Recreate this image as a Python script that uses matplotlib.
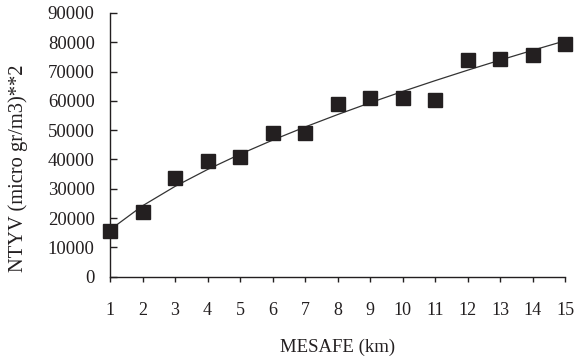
import numpy as np
import matplotlib
matplotlib.use("Agg")
import matplotlib.pyplot as plt

distance_km = [1, 2, 3, 4, 5, 6, 7, 8, 9, 10, 11, 12, 13, 14, 15]
ntyv = [15600, 22200, 33600, 39500, 40700, 49000, 48900, 59000, 60900,
        60900, 60300, 73900, 74300, 75600, 79400]
y_ticks = [0, 10000, 20000, 30000, 40000, 50000, 60000, 70000, 80000, 90000]

plt.rcParams['font.family'] = ['Liberation Serif', 'DejaVu Serif']

fig = plt.figure(figsize=(5.76, 3.6), dpi=100)
ax = fig.add_axes([0.191, 0.2314, 0.790, 0.7326])

x = np.array(distance_km, dtype=float)
y = np.array(ntyv, dtype=float)
# power trendline (as in spreadsheet trendline)
b, a = np.polyfit(np.log(x), np.log(y), 1)
trend = np.exp(a) * x ** b
ax.plot(x, trend, color='#333333', lw=0.9, zorder=2)
ax.plot(x, y, 's', color='#231f20', markersize=10.5, zorder=3, clip_on=False)

ax.set_xlim(1, 15)
ax.set_ylim(0, 90000)
ax.set_xticks(distance_km)
ax.set_yticks(y_ticks)
ax.set_xticklabels([str(v) for v in distance_km], fontsize=13)
ax.set_yticklabels([str(v) for v in y_ticks], fontsize=13.5)

for s in ['top', 'right']:
    ax.spines[s].set_visible(False)
for s in ['left', 'bottom']:
    ax.spines[s].set_color('#231f20')
    ax.spines[s].set_linewidth(1.0)

ax.tick_params(axis='y', direction='in', length=5, width=1.0, pad=11, colors='#231f20')
ax.tick_params(axis='x', direction='out', length=3.6, width=1.0, pad=14.5, colors='#231f20')

fig.text(338 / 576, 1 - 347 / 360, 'MESAFE (km)', fontsize=13.5, color='#231f20',
         ha='center', va='center')
fig.text(18 / 576, 1 - 168 / 360, 'NTYV (micro gr/m3)**2', fontsize=14.8,
         color='#231f20', ha='center', va='center', rotation=90)

fig.savefig('out.png', dpi=100)
